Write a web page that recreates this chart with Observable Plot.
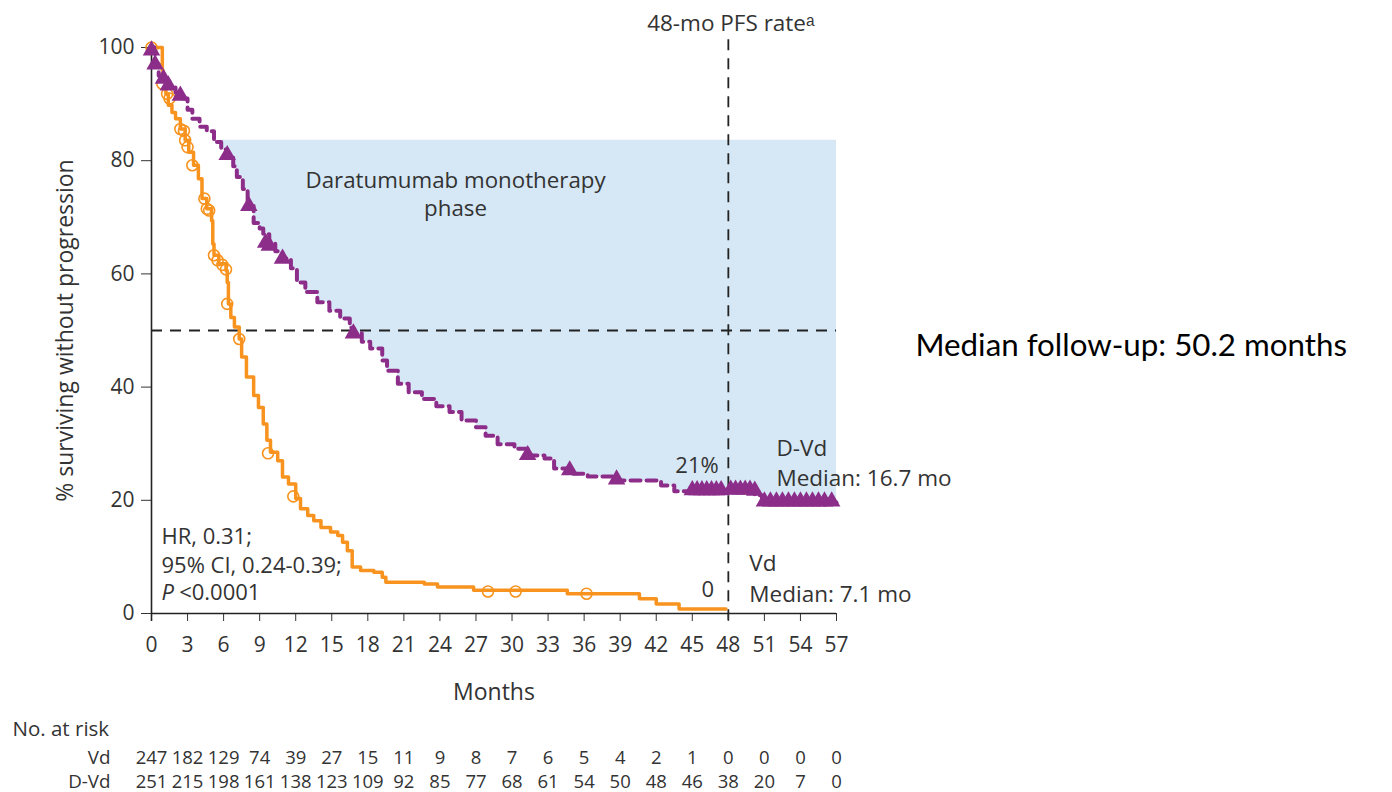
<!DOCTYPE html>
<html><head><meta charset="utf-8">
<script src="https://cdn.jsdelivr.net/npm/d3@7"></script>
<script src="https://cdn.jsdelivr.net/npm/@observablehq/plot@0.6"></script>
<style>body{margin:0;background:#fff} #chart{width:1392px;height:792px}</style>
</head><body><div id="chart"></div>
<script>
// ---- data ----
const xTicks = [0,3,6,9,12,15,18,21,24,27,30,33,36,39,42,45,48,51,54,57];
const yTicks = [0,20,40,60,80,100];

// Vd Kaplan-Meier steps (months, % PFS)
const vdT = [0,0.9,0.95,1.2,1.4,1.7,2.0,2.4,2.8,3.1,3.5,3.9,4.2,4.6,5.0,5.1,5.2,5.6,6.2,6.3,6.4,6.6,6.9,7.3,7.5,7.9,8.5,8.9,9.3,9.6,9.9,10.5,10.9,11.4,12.0,12.4,13.0,13.5,14.1,14.9,15.5,15.9,16.3,16.7,17.4,18.5,19.2,19.5,22.7,23.8,26.8,34.6,40.6,42.0,43.9,47.8];
const vdS = [100,96,94.2,91.8,89.8,88.5,87.4,85.6,83.6,81.5,79.2,76.8,73.3,71.5,69.4,65.3,63.3,61.8,60.6,58.5,54.7,52.3,50.6,48.5,45.3,41.8,38.5,36.4,33.5,30.6,28.5,27.0,24.1,22.9,20.3,18.5,17.3,16.4,15.2,14.4,13.8,12.6,11.1,8.2,7.6,7.3,6.4,5.5,5.2,4.7,4.1,3.5,2.6,1.7,0.8,0.8];
// Vd censor marks
const vdCensT = [0,0.9,1.3,1.5,2.4,2.7,2.8,3.0,3.4,4.4,4.6,4.8,5.2,5.5,5.9,6.2,6.3,7.3,9.7,11.8,28.0,30.3,36.2];
const vdCensS = [100,93.6,91.8,91,85.6,85.3,83.6,82.4,79.2,73.3,71.5,71.2,63.3,62.4,61.6,60.8,54.7,48.5,28.3,20.7,3.9,3.9,3.5];

// D-Vd Kaplan-Meier steps
const dvdT = [0,0.3,0.6,1.0,1.5,2.0,2.6,3.0,3.4,4.0,4.6,5.2,5.8,6.3,6.8,7.1,7.6,8.0,8.5,9.0,9.3,9.8,10.3,10.9,11.6,12.1,12.8,13.8,14.8,15.7,16.5,16.8,17.5,18.2,19.2,19.6,20.5,21.4,22.5,23.7,24.8,25.8,27.0,27.8,28.8,30.2,31.3,32.7,33.5,34.8,36.3,38.5,42.4,43.5,50.2,50.8,57];
const dvdS = [100,97,95,94,93,92,91,89,87.4,86,85.2,83.3,82,80.9,79,77.1,75,72,69,68,67,65.5,64,62.7,61,58.5,56.8,55,53.5,52.1,50.5,49.5,48,46.8,44.7,42.9,40.6,39.1,37.9,36.6,35.6,34.1,32.9,31.4,29.9,29.1,27.9,27.4,25.6,24.7,24.2,23.5,22.6,21.6,20.9,19.6,19.6];
// D-Vd censor marks
const dvdCensT = [0,0.3,1.0,1.4,2.4,6.3,8.1,9.5,9.8,10.9,16.8,31.3,34.8,38.7,45.0,45.4,45.8,46.2,46.6,47.0,47.4,48.2,48.6,49.0,49.4,49.8,50.2,51.0,51.5,52.0,52.5,53.0,53.5,54.0,54.5,55.0,55.5,56.0,56.6];
const dvdCensS = [99.5,97,94.5,93.3,91.5,81,72,65.5,65,62.7,49.5,28,25.3,23.7,21.8,21.8,21.8,21.8,21.8,21.8,21.8,21.9,21.9,21.9,21.9,21.9,21.7,19.8,19.8,19.8,19.8,19.8,19.8,19.8,19.8,19.8,19.8,19.8,19.8];

// shaded "daratumumab monotherapy phase"
const shadeStart = 5.6, shadeTop = 83.6;

// numbers at risk
const riskVd  = [247,182,129,74,39,27,15,11,9,8,7,6,5,4,2,1,0,0,0,0];
const riskDVd = [251,215,198,161,138,123,109,92,85,77,68,61,54,50,48,46,38,20,7,0];

// ---- build tables ----
const vd = vdT.map((t,i)=>({t, s: vdS[i]}));
const dvd = dvdT.map((t,i)=>({t, s: dvdS[i]}));
const vdCens = vdCensT.map((t,i)=>({t, s: vdCensS[i]}));
const dvdCens = dvdCensT.map((t,i)=>({t, s: dvdCensS[i]}));
const valAt = (rows, x) => { let v = rows[0].s; for (const r of rows) if (r.t <= x) v = r.s; return v; };
const shade = [{t: shadeStart, s: valAt(dvd, shadeStart)}, ...dvd.filter(d => d.t > shadeStart)];

const orange = "#F7931E", purple = "#8C2D8A", blue = "#D6E8F5", ink = "#333";
const font = "'Open Sans', sans-serif";

const chart = Plot.plot({
  width: 1392, height: 792,
  marginTop: 47, marginBottom: 179, marginLeft: 151, marginRight: 556,
  x: {domain: [0, 57]},
  y: {domain: [0, 100]},
  style: {fontFamily: font, fontSize: "21px", color: ink, background: "white", overflow: "visible"},
  marks: [
    Plot.areaY(shade, {x: "t", y1: "s", y2: () => shadeTop, curve: "step-after", fill: blue}),
    Plot.ruleY([50], {x1: 0, x2: 57, stroke: "#222", strokeWidth: 1.8, strokeDasharray: "11,8"}),
    Plot.ruleX([48], {y1: -1.3, y2: 101.5, stroke: "#222", strokeWidth: 1.8, strokeDasharray: "11,8"}),
    Plot.axisX({ticks: xTicks, tickSize: 8, tickPadding: 16, label: null, tickFormat: d => d}),
    Plot.axisY({ticks: yTicks, tickSize: 10, tickPadding: 7, label: null}),
    Plot.ruleY([0], {x1: 0, x2: 57, stroke: "#222", strokeWidth: 1.6}),
    Plot.ruleX([0], {y1: -1.4, y2: 100, stroke: "#222", strokeWidth: 1.6}),
    Plot.line(vd, {x: "t", y: "s", curve: "step-after", stroke: orange, strokeWidth: 3.5}),
    Plot.line(dvd, {x: "t", y: "s", curve: "step-after", stroke: purple, strokeWidth: 4, strokeDasharray: "10,6"}),
    Plot.dot(vdCens, {x: "t", y: "s", r: 5.5, stroke: orange, fill: "none", strokeWidth: 1.6}),
    Plot.dot(dvdCens, {x: "t", y: "s", symbol: "triangle", r: 6.5, fill: purple, stroke: "none"}),
    // annotations
    Plot.text(["Daratumumab monotherapy"], {x: 25.3, y: 76.5, fontSize: 22.3, fill: ink}),
    Plot.text(["phase"], {x: 25.3, y: 71.5, fontSize: 22.3, fill: ink}),
    Plot.text(["21%"], {x: 47.2, y: 26.0, textAnchor: "end", fontSize: 22, fill: ink}),
    Plot.text(["D-Vd\nMedian: 16.7 mo"], {x: 52.0, y: 26.9, textAnchor: "start", fontSize: 22.5, lineHeight: 1.33, fill: ink}),
    Plot.text(["Vd\nMedian: 7.1 mo"], {x: 49.75, y: 6.45, textAnchor: "start", fontSize: 22.5, lineHeight: 1.38, fill: ink}),
    Plot.text(["0"], {x: 46.3, y: 4.2, fontSize: 22, fill: ink}),
    Plot.text(["HR, 0.31;\n95% CI, 0.24-0.39;"], {x: 0.83, y: 11.4, textAnchor: "start", fontSize: 22, lineHeight: 1.32, fill: ink}),
    Plot.text(["P"], {x: 0.83, y: 3.55, textAnchor: "start", fontSize: 22, fontStyle: "italic", fill: ink}),
    Plot.text(["<0.0001"], {x: 2.3, y: 3.55, textAnchor: "start", fontSize: 22, fill: ink}),
    Plot.text(["48-mo PFS rate\u1d43"], {x: 48.2, frameAnchor: "top", dy: -32, fontSize: 22.5, fill: ink}),
    Plot.text(["Months"], {x: 28.5, frameAnchor: "bottom", dy: 86, fontSize: 23, fill: ink}),
    Plot.text(["% surviving without progression"], {y: 50, frameAnchor: "left", dx: -86, rotate: -90, textAnchor: "middle", fontSize: 23, fill: ink}),
    Plot.text(["Median follow-up: 50.2 months"], {y: 47.2, frameAnchor: "right", dx: 79, textAnchor: "start", fontSize: 31.3, fontFamily: "Lato, sans-serif", fill: "#000"}),
    // numbers at risk
    Plot.text(["No. at risk"], {frameAnchor: "bottom-left", dx: -139, dy: 122, textAnchor: "start", fontSize: 20.5, fill: ink}),
    Plot.text(["Vd"], {frameAnchor: "bottom-left", dx: -41, dy: 150, textAnchor: "end", fontSize: 18.8, fill: ink}),
    Plot.text(["D-Vd"], {frameAnchor: "bottom-left", dx: -41, dy: 174, textAnchor: "end", fontSize: 18.8, fill: ink}),
    Plot.text(riskVd, {x: (d,i) => xTicks[i], text: d => d, frameAnchor: "bottom", dy: 150, fontSize: 18.5, fill: ink}),
    Plot.text(riskDVd, {x: (d,i) => xTicks[i], text: d => d, frameAnchor: "bottom", dy: 174, fontSize: 18.5, fill: ink})
  ]
});
document.getElementById("chart").append(chart);
</script>
</body></html>
